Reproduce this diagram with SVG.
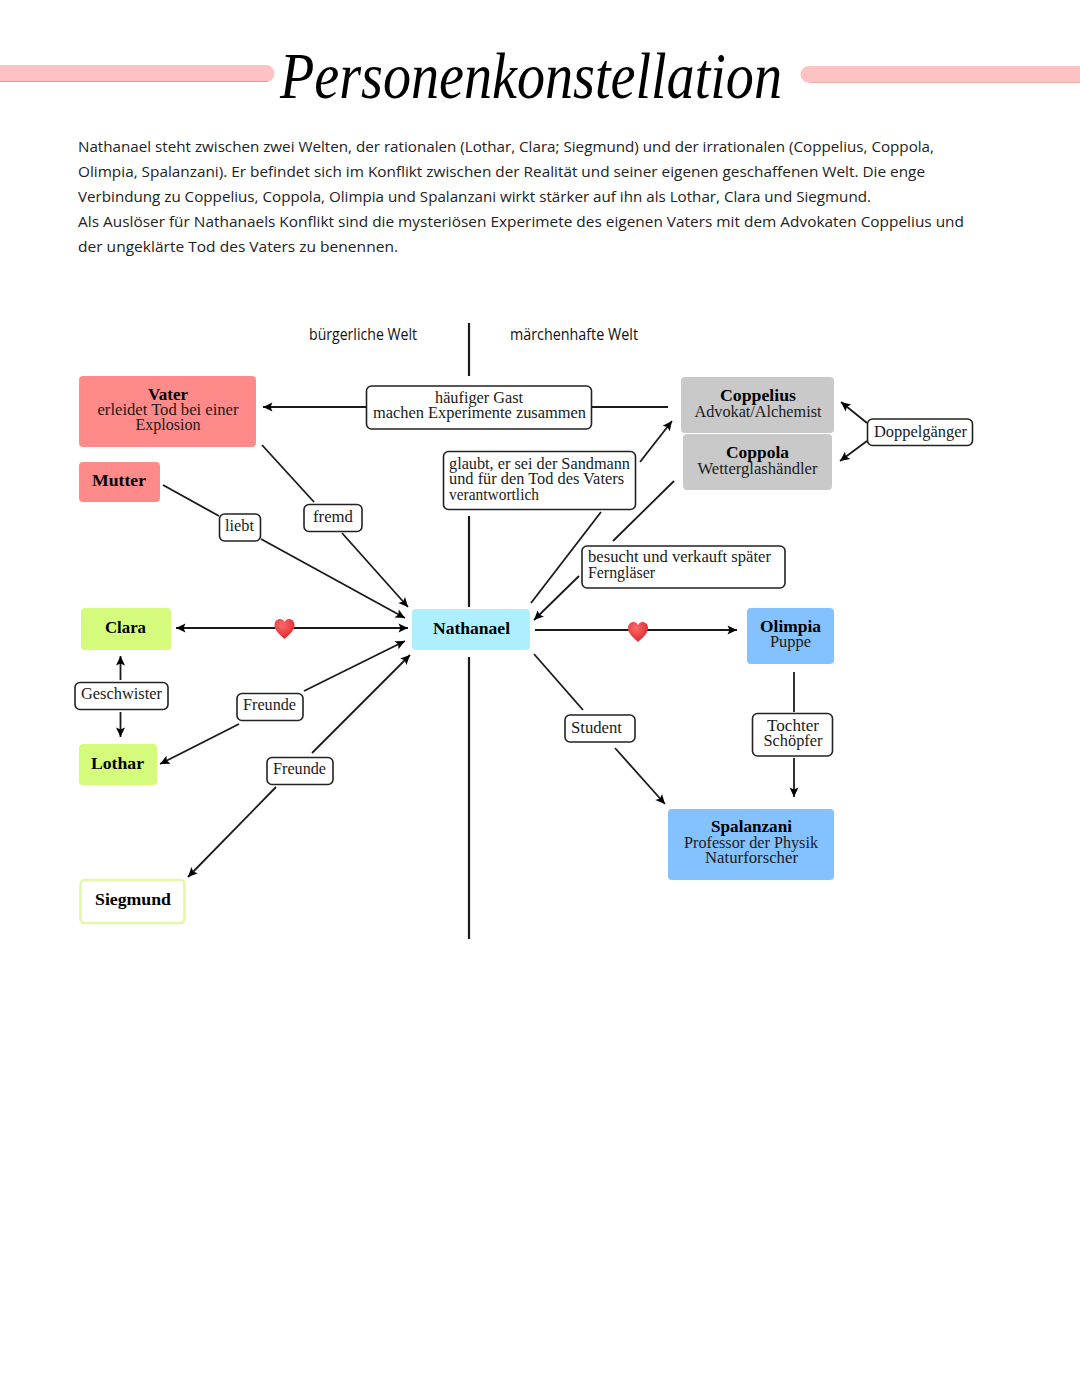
<svg xmlns="http://www.w3.org/2000/svg" width="1080" height="1394" viewBox="0 0 1080 1394">
<style>
text{font-family:"Liberation Serif","Times New Roman",serif;font-size:16.5px;fill:#1a1a1a}
.b{font-weight:700;fill:#000}
.m{text-anchor:middle}
.body{font-family:"Open Sans","Noto Sans",sans-serif;font-size:15px;fill:#222}
.hand{font-family:"Open Sans","Noto Sans",sans-serif;font-size:16px;fill:#111}
.title{font-family:"Liberation Serif",serif;font-style:italic;font-size:66px;fill:#000}
.lab{fill:#fff;stroke:#222;stroke-width:1.6}
.con line{stroke:#1a1a1a;stroke-width:1.8;fill:none}
.a{marker-end:url(#ah)}
.d{marker-start:url(#ah);marker-end:url(#ah)}
.con .v{stroke-width:2.200}
</style>
<defs>
<marker id="ah" markerUnits="userSpaceOnUse" markerWidth="12" markerHeight="12" refX="10" refY="6" orient="auto-start-reverse">
<path d="M0.500 1.500 L10 6 L0.500 10.500 L2.500 6 Z" fill="#000"/>
</marker>
<radialGradient id="hg" cx="0.400" cy="0.300" r="0.800"><stop offset="0" stop-color="#ff6a6a"/><stop offset="1" stop-color="#d81f26"/></radialGradient>
<path id="heart" d="M0 10 C-4 6 -10 2 -10 -4 C-10 -8 -7 -10 -4.500 -10 C-2.500 -10 -1 -9 0 -7 C1 -9 2.500 -10 4.500 -10 C7 -10 10 -8 10 -4 C10 2 4 6 0 10 Z" fill="url(#hg)"/>
</defs>
<rect width="1080" height="1394" fill="#fff"/>

<g id="header">
<path d="M0 65 H266 A8.500 8.500 0 0 1 266 82 H0 Z" fill="#ffc2c2"/>
<path d="M0 81.500 H268" stroke="#e09a9a" stroke-width="1.200"/>
<path d="M1080 66 H809 A8.500 8.500 0 0 0 809 83 H1080 Z" fill="#ffc2c2"/>
<path d="M810 82.500 H1080" stroke="#ecaaaa" stroke-width="1.200"/>
<text class="title" x="280" y="98" textLength="502" lengthAdjust="spacingAndGlyphs">Personenkonstellation</text>
</g>

<g id="intro">
<text class="body" x="78" y="152" textLength="856" lengthAdjust="spacingAndGlyphs">Nathanael steht zwischen zwei Welten, der rationalen (Lothar, Clara; Siegmund) und der irrationalen (Coppelius, Coppola,</text>
<text class="body" x="78" y="177" textLength="847" lengthAdjust="spacingAndGlyphs">Olimpia, Spalanzani). Er befindet sich im Konflikt zwischen der Realität und seiner eigenen geschaffenen Welt. Die enge</text>
<text class="body" x="78" y="202" textLength="793" lengthAdjust="spacingAndGlyphs">Verbindung zu Coppelius, Coppola, Olimpia und Spalanzani wirkt stärker auf ihn als Lothar, Clara und Siegmund.</text>
<text class="body" x="78" y="227" textLength="886" lengthAdjust="spacingAndGlyphs">Als Auslöser für Nathanaels Konflikt sind die mysteriösen Experimete des eigenen Vaters mit dem Advokaten Coppelius und</text>
<text class="body" x="78" y="252" textLength="320" lengthAdjust="spacingAndGlyphs">der ungeklärte Tod des Vaters zu benennen.</text>
</g>

<g id="worlds">
<text class="hand" x="309" y="340" textLength="108" lengthAdjust="spacingAndGlyphs">bürgerliche Welt</text>
<text class="hand" x="510" y="340" textLength="128" lengthAdjust="spacingAndGlyphs">märchenhafte Welt</text>
</g>

<g id="connectors" class="con">
<line class="v" x1="469" y1="323" x2="469" y2="376"/>
<line class="v" x1="469" y1="516" x2="469" y2="607"/>
<line class="v" x1="469" y1="657" x2="469" y2="939"/>
<line class="a" x1="366" y1="407" x2="263" y2="407"/>
<line x1="592" y1="407" x2="668" y2="407"/>
<line x1="262" y1="445" x2="314" y2="502"/>
<line class="a" x1="342" y1="533" x2="408" y2="607"/>
<line x1="163" y1="485" x2="219" y2="516"/>
<line class="a" x1="261" y1="539" x2="405" y2="618"/>
<line class="d" x1="176" y1="628" x2="408" y2="628"/>
<line class="a" x1="640" y1="462" x2="672" y2="421"/>
<line x1="601" y1="512" x2="531" y2="603"/>
<line x1="613" y1="541" x2="674" y2="481"/>
<line class="a" x1="579" y1="576" x2="534" y2="620"/>
<line class="a" x1="535" y1="630" x2="737" y2="630"/>
<line class="a" x1="867" y1="423" x2="841" y2="402"/>
<line class="a" x1="867" y1="441" x2="840" y2="461"/>
<line class="a" x1="120.500" y1="680" x2="120.500" y2="656"/>
<line class="a" x1="120.500" y1="712" x2="120.500" y2="737"/>
<line class="a" x1="304" y1="691" x2="405" y2="641"/>
<line class="a" x1="239" y1="724" x2="160" y2="764"/>
<line class="a" x1="312" y1="753" x2="410" y2="655"/>
<line class="a" x1="276" y1="787" x2="188" y2="877"/>
<line x1="534" y1="654" x2="583" y2="710"/>
<line class="a" x1="615" y1="748" x2="665" y2="804"/>
<line x1="794" y1="672" x2="794" y2="712"/>
<line class="a" x1="794" y1="758" x2="794" y2="797"/>
<use href="#heart" x="284.500" y="629"/>
<use href="#heart" x="638" y="632"/>
</g>

<g id="vater"><rect x="79" y="376" width="177" height="71" rx="4" fill="#ff8a8a"/>
<text class="b m" x="168" y="400" textLength="40" lengthAdjust="spacingAndGlyphs">Vater</text><text class="m" x="168" y="415" textLength="141" lengthAdjust="spacingAndGlyphs">erleidet Tod bei einer</text><text class="m" x="168" y="430" textLength="65" lengthAdjust="spacingAndGlyphs">Explosion</text></g>
<g id="mutter"><rect x="79" y="462" width="81" height="40" rx="4" fill="#ff8a8a"/><text class="b m" x="119" y="486" textLength="54" lengthAdjust="spacingAndGlyphs">Mutter</text></g>
<g id="clara"><rect x="81" y="608" width="90" height="42" rx="4" fill="#d5fb7c"/><text class="b m" x="125.500" y="633" textLength="41" lengthAdjust="spacingAndGlyphs">Clara</text></g>
<g id="lothar"><rect x="79" y="744" width="78" height="41" rx="4" fill="#d5fb7c"/><text class="b m" x="117.500" y="769" textLength="53" lengthAdjust="spacingAndGlyphs">Lothar</text></g>
<g id="siegmund"><rect x="80.500" y="880" width="104" height="43" rx="4" fill="#fff" stroke="#e0f8a8" stroke-width="2.500"/><text class="b m" x="133" y="905" textLength="76" lengthAdjust="spacingAndGlyphs">Siegmund</text></g>
<g id="nathanael"><rect x="412" y="609" width="118" height="41" rx="4" fill="#aeeeff"/><text class="b m" x="471.500" y="634" textLength="77" lengthAdjust="spacingAndGlyphs">Nathanael</text></g>
<g id="coppelius"><rect x="681" y="377" width="153" height="56" rx="4" fill="#c9c9c9"/><text class="b m" x="758" y="401" textLength="76" lengthAdjust="spacingAndGlyphs">Coppelius</text><text class="m" x="758" y="417" textLength="127" lengthAdjust="spacingAndGlyphs">Advokat/Alchemist</text></g>
<g id="coppola"><rect x="683" y="434" width="149" height="56" rx="4" fill="#c9c9c9"/><text class="b m" x="757.500" y="458" textLength="63" lengthAdjust="spacingAndGlyphs">Coppola</text><text class="m" x="757.500" y="474" textLength="120" lengthAdjust="spacingAndGlyphs">Wetterglashändler</text></g>
<g id="olimpia"><rect x="747" y="608" width="87" height="56" rx="4" fill="#84c1ff"/><text class="b m" x="790.500" y="632" textLength="61" lengthAdjust="spacingAndGlyphs">Olimpia</text><text class="m" x="790.500" y="647" textLength="41" lengthAdjust="spacingAndGlyphs">Puppe</text></g>
<g id="spalanzani"><rect x="668" y="809" width="166" height="71" rx="4" fill="#84c1ff"/><text class="b m" x="751.500" y="832" textLength="81" lengthAdjust="spacingAndGlyphs">Spalanzani</text><text class="m" x="751" y="848" textLength="134" lengthAdjust="spacingAndGlyphs">Professor der Physik</text><text class="m" x="751.500" y="863" textLength="93" lengthAdjust="spacingAndGlyphs">Naturforscher</text></g>

<g id="label-gast"><rect class="lab" x="366.500" y="386" width="225" height="43" rx="5"/><text class="m" x="479" y="403" textLength="88" lengthAdjust="spacingAndGlyphs">häufiger Gast</text><text class="m" x="479.500" y="418" textLength="213" lengthAdjust="spacingAndGlyphs">machen Experimente zusammen</text></g>
<g id="label-sandmann"><rect class="lab" x="443.500" y="451.500" width="192" height="58" rx="5"/><text x="449" y="469" textLength="181" lengthAdjust="spacingAndGlyphs">glaubt, er sei der Sandmann</text><text x="449" y="484" textLength="175" lengthAdjust="spacingAndGlyphs">und für den Tod des Vaters</text><text x="449" y="500" textLength="90" lengthAdjust="spacingAndGlyphs">verantwortlich</text></g>
<g id="label-besucht"><rect class="lab" x="582" y="546" width="203" height="42" rx="5"/><text x="588" y="562" textLength="183" lengthAdjust="spacingAndGlyphs">besucht und verkauft später</text><text x="588" y="578" textLength="67" lengthAdjust="spacingAndGlyphs">Ferngläser</text></g>
<g id="label-doppel"><rect class="lab" x="867.500" y="419" width="105" height="26.500" rx="5"/><text x="874" y="437" textLength="93" lengthAdjust="spacingAndGlyphs">Doppelgänger</text></g>
<g id="label-liebt"><rect class="lab" x="219.500" y="514" width="41" height="27" rx="5"/><text x="225" y="531" textLength="29" lengthAdjust="spacingAndGlyphs">liebt</text></g>
<g id="label-fremd"><rect class="lab" x="304" y="504.500" width="58" height="27" rx="5"/><text x="313" y="522" textLength="40" lengthAdjust="spacingAndGlyphs">fremd</text></g>
<g id="label-geschwister"><rect class="lab" x="75" y="682.500" width="93" height="27" rx="5"/><text x="81" y="699" textLength="81" lengthAdjust="spacingAndGlyphs">Geschwister</text></g>
<g id="label-freunde1"><rect class="lab" x="237" y="693.500" width="66" height="27" rx="5"/><text x="243" y="710" textLength="53" lengthAdjust="spacingAndGlyphs">Freunde</text></g>
<g id="label-freunde2"><rect class="lab" x="267" y="757.500" width="66" height="27" rx="5"/><text x="273" y="774" textLength="53" lengthAdjust="spacingAndGlyphs">Freunde</text></g>
<g id="label-student"><rect class="lab" x="565" y="715" width="70" height="27" rx="5"/><text x="571" y="733" textLength="51" lengthAdjust="spacingAndGlyphs">Student</text></g>
<g id="label-tochter"><rect class="lab" x="752.500" y="713.500" width="80" height="42.500" rx="5"/><text class="m" x="793" y="731" textLength="52" lengthAdjust="spacingAndGlyphs">Tochter</text><text class="m" x="793" y="746" textLength="59" lengthAdjust="spacingAndGlyphs">Schöpfer</text></g>
</svg>
